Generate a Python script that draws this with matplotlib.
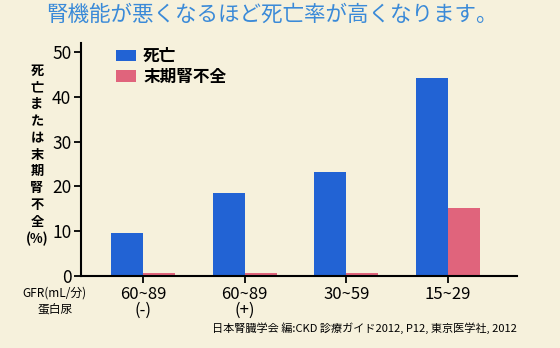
import numpy as np
import matplotlib
matplotlib.use("Agg")
import matplotlib.pyplot as plt

plt.rcParams['font.family'] = ['Noto Sans CJK JP', 'DejaVu Sans']

# データ (%)
groups = ['60~89\n(-)', '60~89\n(+)', '30~59', '15~29']
death = [9.7, 18.6, 23.2, 44.1]
esrd = [0.6, 0.6, 0.6, 15.2]
y_ticks = [0, 10, 20, 30, 40, 50]

bg = '#f6f1dc'
blue = '#2263d4'
pink = '#e0647c'

fig = plt.figure(figsize=(5.6, 3.48), dpi=100, facecolor=bg)
ax = fig.add_axes([0.1446, 0.2069, 0.7786, 0.6695], facecolor=bg)

x = np.arange(len(groups))
w = 0.315
b1 = ax.bar(x - w / 2, death, w, color=blue, label='死亡')
b2 = ax.bar(x + w / 2, esrd, w, color=pink, label='末期腎不全')

ax.set_xlim(-0.61, 3.68)
ax.set_ylim(0, 52)
ax.set_xticks(x)
ax.set_xticklabels(groups, fontsize=12, linespacing=0.9)
ax.set_yticks(y_ticks)
ax.tick_params(axis='y', labelsize=12.5, length=5, width=1.3, direction='out', pad=2)
ax.tick_params(axis='x', length=5, width=1.3, direction='out', pad=2)
for s in ['top', 'right']:
    ax.spines[s].set_visible(False)
for s in ['left', 'bottom']:
    ax.spines[s].set_linewidth(1.5)

ax.legend(loc='upper left', bbox_to_anchor=(0.066, 1.01), frameon=False,
          prop={'weight': 'bold', 'size': 12}, handlelength=1.15,
          handleheight=0.72, labelspacing=0.15, handletextpad=0.45,
          borderaxespad=0)

# タイトル
fig.text(0.485, 0.958, '腎機能が悪くなるほど死亡率が高くなります。', ha='center',
         va='center', fontsize=15.5, color='#3a8ad8')

# 縦書きのy軸ラベル
ylab = '\n'.join(list('死亡または末期腎不全') + ['(%)'])
fig.text(0.066, 0.555, ylab, ha='center', va='center', fontsize=9.5,
         fontweight='bold', linespacing=1.25)

fig.text(0.098, 0.158, 'GFR(mL/分)', ha='center', va='center', fontsize=8.5)
fig.text(0.098, 0.109, '蛋白尿', ha='center', va='center', fontsize=8.5)

fig.text(0.923, 0.058, '日本腎臓学会 編:CKD 診療ガイド2012, P12, 東京医学社, 2012',
         ha='right', va='center', fontsize=8)

fig.savefig('out.png', dpi=100, facecolor=bg)
